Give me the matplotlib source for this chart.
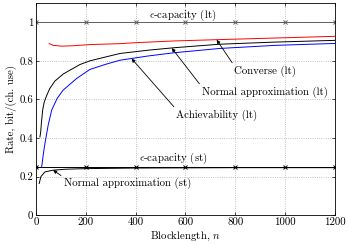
import matplotlib
matplotlib.use("Agg")
import matplotlib.pyplot as plt
import numpy as np

plt.rcParams['font.family'] = 'cmr10'
plt.rcParams['mathtext.fontset'] = 'cm'
plt.rcParams['axes.formatter.use_mathtext'] = True
plt.rcParams['font.size'] = 7.8

# capacity levels
cap_lt = 1.0
cap_st = 0.247
cap_n = [0, 200, 400, 600, 800, 1000, 1200]

# converse (lt), red
conv_n = [53, 70, 103, 150, 216, 337, 400, 556, 737, 958, 1200]
conv_r = [0.889, 0.880, 0.876, 0.878, 0.884, 0.889, 0.894, 0.903, 0.910, 0.918, 0.927]

# normal approximation (lt), black
na_n = [16, 19, 22, 27, 33, 43, 55, 76, 110, 136, 177, 217, 280, 337, 450, 556, 737, 958, 1200]
na_r = [0.405, 0.43, 0.48, 0.545, 0.585, 0.62, 0.655, 0.695, 0.732, 0.751, 0.781, 0.80,
        0.82, 0.838, 0.855, 0.868, 0.886, 0.897, 0.906]

# achievability (lt), blue
ach_n = [23, 30, 36, 49, 63, 85, 109, 163, 216, 280, 337, 450, 556, 737, 958, 1200]
ach_r = [0.25, 0.32, 0.371, 0.466, 0.544, 0.605, 0.648, 0.708, 0.755, 0.782, 0.803,
         0.825, 0.842, 0.864, 0.880, 0.890]

# normal approximation (st), black
nast_n = [13, 20, 36, 69, 120, 200, 400, 800, 1200]
nast_r = [0.164, 0.20, 0.224, 0.233, 0.238, 0.241, 0.244, 0.246, 0.246]

xticks = [0, 200, 400, 600, 800, 1000, 1200]
yticks = [0, 0.2, 0.4, 0.6, 0.8, 1.0]
ytick_labels = ['0', '0.2', '0.4', '0.6', '0.8', '1']

fig = plt.figure(figsize=(3.49, 2.45), dpi=100)
ax = fig.add_axes([0.103, 0.122, 0.857, 0.866])

lw = 0.7
ax.plot(cap_n, [cap_lt] * len(cap_n), color='#606060', lw=lw, marker='x', ms=2.5, mew=0.7)
ax.plot(cap_n, [cap_st] * len(cap_n), color='black', lw=lw, marker='x', ms=2.5, mew=0.7)
ax.plot(conv_n, conv_r, color='red', lw=lw)
ax.plot(na_n, na_r, color='black', lw=lw)
ax.plot(ach_n, ach_r, color='blue', lw=lw)
ax.plot(nast_n, nast_r, color='black', lw=lw)

ax.set_xlim(0, 1200)
ax.set_ylim(0, 1.1)
ax.set_xticks(xticks)
ax.set_xticklabels([str(t) for t in xticks])
ax.set_yticks(yticks)
ax.set_yticklabels(ytick_labels)
ax.grid(True, linestyle=':', color='#b0b0b0', lw=0.6)
ax.tick_params(direction='in', length=2.5, width=0.5, top=True, right=True, pad=2)
for s in ax.spines.values():
    s.set_linewidth(0.6)

ax.set_xlabel('Blocklength, $n$', labelpad=2)
ax.set_ylabel('Rate, bit/(ch. use)', labelpad=2)

arrow = dict(arrowstyle='-|>', color='black', lw=0.6, mutation_scale=5, shrinkA=0, shrinkB=0)

ax.text(590, 1.036, r'$\epsilon$-capacity (lt)', ha='center', va='center')
ax.text(552, 0.295, r'$\epsilon$-capacity (st)', ha='center', va='center')

ax.annotate('Converse (lt)', xy=(725, 0.909), xytext=(919, 0.746),
            ha='center', va='center',
            arrowprops=dict(arrow, relpos=(0.0, 1.0)))
ax.annotate('Normal approximation (lt)', xy=(545, 0.866), xytext=(917, 0.637),
            ha='center', va='center',
            arrowprops=dict(arrow, relpos=(0.0, 1.0)))
ax.annotate('Achievability (lt)', xy=(384, 0.811), xytext=(726, 0.518),
            ha='center', va='center',
            arrowprops=dict(arrow, relpos=(0.0, 1.0)))
ax.annotate('Normal approximation (st)', xy=(69, 0.233), xytext=(367, 0.166),
            ha='center', va='center',
            arrowprops=dict(arrow, relpos=(0.0, 1.0)))

fig.savefig('out.png', dpi=100)
